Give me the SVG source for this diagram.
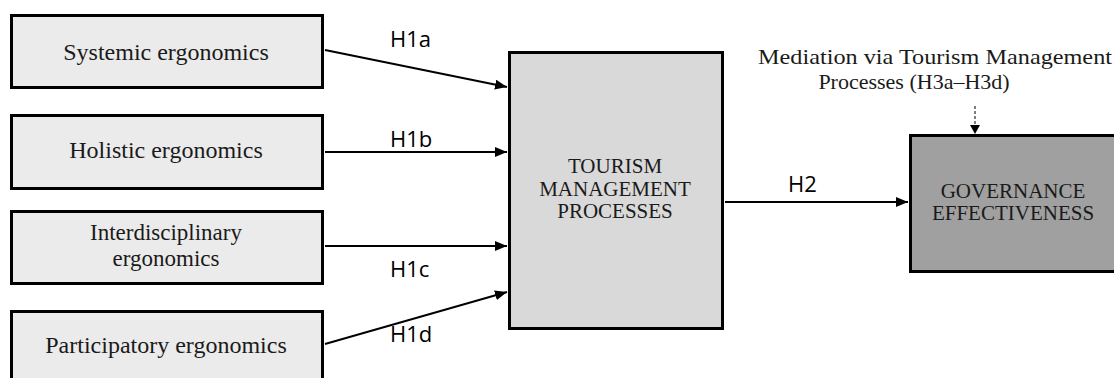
<svg xmlns="http://www.w3.org/2000/svg" width="1114" height="378" viewBox="0 0 1114 378">
  <defs>
    <marker id="ah" viewBox="0 0 12 10" refX="12" refY="5" markerWidth="12" markerHeight="10" markerUnits="userSpaceOnUse" orient="auto">
      <path d="M0,0 L12,5 L0,10 Z" fill="#000"/>
    </marker>
  </defs>
  <style>
    .box { stroke: #000; stroke-width: 3; }
    .src { fill: #ebebeb; }
    .mid { fill: #d9d9d9; }
    .out { fill: #a0a0a0; }
    .lbl { font-family: "Liberation Serif", "Times New Roman", serif; fill: #1a1a1a; text-anchor: middle; }
    .h { font-family: "Open Sans", "Liberation Sans", sans-serif; font-size: 22px; fill: #000; }
    .conn { stroke: #000; stroke-width: 2; fill: none; marker-end: url(#ah); }
    .dash { stroke: #000; stroke-width: 1; stroke-dasharray: 3 2; fill: none; }
  </style>
  <rect width="1114" height="378" fill="#fff"/>

  <g id="connectors">
    <line class="conn" x1="325" y1="50" x2="507" y2="87"/>
    <line class="conn" x1="325" y1="152" x2="507" y2="152"/>
    <line class="conn" x1="325" y1="246" x2="507" y2="246"/>
    <line class="conn" x1="325" y1="344" x2="507" y2="292"/>
    <line class="conn" x1="725" y1="202" x2="908" y2="202"/>
    <line class="dash" x1="975" y1="106" x2="975" y2="125"/>
    <path d="M970,125 L980,125 L975,134 Z" fill="#000"/>
    <text class="h" x="390" y="47">H1a</text>
    <text class="h" x="390" y="147">H1b</text>
    <text class="h" x="390" y="277">H1c</text>
    <text class="h" x="390" y="342">H1d</text>
    <text class="h" x="788" y="192">H2</text>
  </g>

  <g id="systemic">
    <rect class="box src" x="11.5" y="15.5" width="311" height="72"/>
    <text class="lbl" x="166" y="60" font-size="24">Systemic ergonomics</text>
  </g>
  <g id="holistic">
    <rect class="box src" x="11.5" y="115.5" width="311" height="73"/>
    <text class="lbl" x="166" y="158" font-size="24">Holistic ergonomics</text>
  </g>
  <g id="interdisciplinary">
    <rect class="box src" x="11.5" y="211.5" width="311" height="72"/>
    <text class="lbl" x="166" y="240" font-size="23">Interdisciplinary</text>
    <text class="lbl" x="166" y="266" font-size="23">ergonomics</text>
  </g>
  <g id="participatory">
    <rect class="box src" x="11.5" y="311.5" width="311" height="80"/>
    <text class="lbl" x="166" y="353" font-size="24">Participatory ergonomics</text>
  </g>

  <g id="tourism-management">
    <rect class="box mid" x="509.5" y="52.5" width="213" height="276"/>
    <text class="lbl" x="615" y="173" font-size="21">TOURISM</text>
    <text class="lbl" x="615" y="196" font-size="21">MANAGEMENT</text>
    <text class="lbl" x="615" y="218" font-size="21">PROCESSES</text>
  </g>

  <g id="governance">
    <rect class="box out" x="910.5" y="135.5" width="220" height="136"/>
    <text class="lbl" x="1013" y="198" font-size="21">GOVERNANCE</text>
    <text class="lbl" x="1013" y="220" font-size="21">EFFECTIVENESS</text>
  </g>

  <g id="mediation-note">
    <text class="lbl" x="935" y="64" font-size="22" textLength="354" lengthAdjust="spacingAndGlyphs">Mediation via Tourism Management</text>
    <text class="lbl" x="914" y="89" font-size="22">Processes (H3a–H3d)</text>
  </g>
</svg>
